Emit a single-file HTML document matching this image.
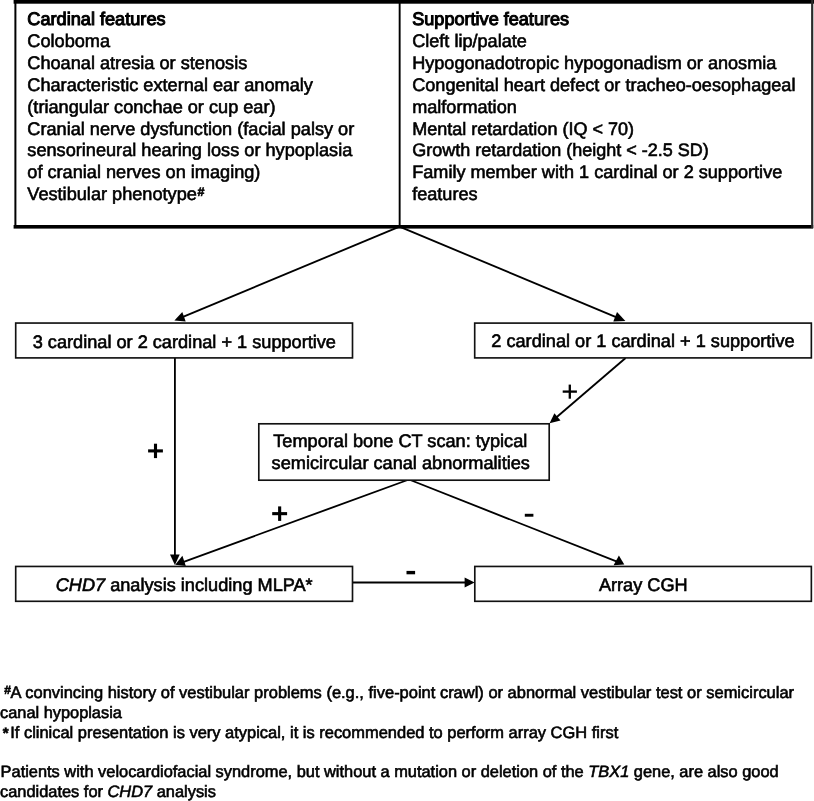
<!DOCTYPE html>
<html>
<head>
<meta charset="utf-8">
<title>CHARGE syndrome diagnostic flowchart</title>
<style>
html,body{margin:0;padding:0;background:#fff;}
body{width:814px;height:801px;overflow:hidden;position:relative;}
svg{position:absolute;left:0;top:0;display:block;filter:grayscale(1);}
text{font-family:"Liberation Sans",sans-serif;fill:#000;stroke:#000;stroke-width:0.6px;text-rendering:geometricPrecision;}
.t{font-size:18.17px;}
.h{stroke-width:1.05px;}
.f{font-size:16.45px;}
.f text{stroke-width:0.6px;}
.pm{font-size:24px;font-weight:bold;}
.ln{stroke:#000;stroke-width:1.85;fill:none;}
.bx{stroke:#111;stroke-width:1.65;fill:#fff;}
</style>
</head>
<body>
<svg width="814" height="801" viewBox="0 0 814 801">
<!-- top big box -->
<rect x="13.6" y="-2" width="800.4" height="5.7" fill="#000"/>
<rect x="13.6" y="225" width="799.6" height="3.6" fill="#000"/>
<rect x="14.4" y="0" width="2" height="228" fill="#000"/>
<rect x="811.1" y="0" width="2.2" height="228" fill="#2a2a2a"/>
<rect x="398.7" y="0" width="1.9" height="228" fill="#000"/>

<!-- connectors -->
<line class="ln" x1="399.5" y1="226.6" x2="180" y2="318.2"/>
<line class="ln" x1="399.5" y1="226.6" x2="619" y2="318.4"/>
<line class="ln" x1="174.9" y1="358" x2="174.9" y2="558"/>
<line class="ln" x1="625.6" y1="358" x2="554.5" y2="419"/>
<line class="ln" x1="409" y1="479.5" x2="181" y2="562.8"/>
<line class="ln" x1="409" y1="479.5" x2="617" y2="561.7"/>
<line class="ln" x1="353" y1="582.5" x2="466" y2="582.5"/>

<!-- arrowheads -->
<polygon points="174.4,320.5 182.3,312.1 185.7,321.4" fill="#000"/>
<polygon points="625.4,320.9 617,312.1 613.3,321.4" fill="#000"/>
<polygon points="174.9,565 170,554.6 179.7,554.6" fill="#000"/>
<polygon points="549.6,423.3 554.4,413.2 560.5,420.4" fill="#000"/>
<polygon points="175.2,564.8 182.4,555.8 185.8,566" fill="#000"/>
<polygon points="624.3,564.4 618.9,555.6 613.6,565.2" fill="#000"/>
<polygon points="474.6,582.5 464.6,577.6 464.6,587.4" fill="#000"/>

<!-- small boxes -->
<rect class="bx" x="15.7" y="323.05" width="336.8" height="34.85"/>
<rect class="bx" x="474.7" y="323.1" width="336.65" height="34.8"/>
<rect class="bx" x="258.8" y="423.8" width="290.4" height="56.4"/>
<rect class="bx" x="15.7" y="566.45" width="336.8" height="34.85"/>
<rect class="bx" x="474.8" y="566.45" width="336.55" height="34.85"/>

<!-- top-left text -->
<g class="t" transform="translate(0,0.7)">
<text class="h" x="27.3" y="24.7">Cardinal features</text>
<text x="27.3" y="46.55">Coloboma</text>
<text x="27.3" y="68.4">Choanal atresia or stenosis</text>
<text x="27.3" y="90.25">Characteristic external ear anomaly</text>
<text x="27.3" y="112.1">(triangular conchae or cup ear)</text>
<text x="27.3" y="133.95">Cranial nerve dysfunction (facial palsy or</text>
<text x="27.3" y="155.8">sensorineural hearing loss or hypoplasia</text>
<text x="27.3" y="177.65">of cranial nerves on imaging)</text>
<text x="27.3" y="199.5">Vestibular phenotype<tspan font-size="12.5" font-weight="bold" dy="-4.3" dx="0.6">#</tspan></text>
</g>

<!-- top-right text -->
<g class="t" style="font-size:18.1px" transform="translate(0,0.7)">
<text class="h" x="412.2" y="24.7">Supportive features</text>
<text x="412.2" y="46.55">Cleft lip/palate</text>
<text x="412.2" y="68.4">Hypogonadotropic hypogonadism or anosmia</text>
<text x="412.2" y="90.25">Congenital heart defect or tracheo-oesophageal</text>
<text x="412.2" y="112.1">malformation</text>
<text x="412.2" y="133.95" font-size="18.03">Mental retardation (IQ &lt; 70)</text>
<text x="412.2" y="155.8" font-size="18.0">Growth retardation (height &lt; -2.5 SD)</text>
<text x="412.2" y="177.65">Family member with 1 cardinal or 2 supportive</text>
<text x="412.2" y="199.5">features</text>
</g>

<!-- box labels -->
<g class="t">
<text x="32.7" y="347.5">3 cardinal or 2 cardinal + 1 supportive</text>
<text x="491.3" y="347.2">2 cardinal or 1 cardinal + 1 supportive</text>
<text x="273.3" y="447.4">Temporal bone CT scan: typical</text>
<text x="271.6" y="469.2">semicircular canal abnormalities</text>
<text x="55.7" y="591"><tspan font-style="italic">CHD7</tspan> analysis including MLPA*</text>
<text x="598.9" y="591">Array CGH</text>
</g>

<!-- plus / minus -->
<g fill="#000">
<rect x="148.1" y="449.35" width="14.8" height="3.1"/><rect x="153.95" y="443.7" width="3.1" height="14.4"/>
<rect x="272.2" y="512.1" width="14.9" height="3.1"/><rect x="278.1" y="506.4" width="3.1" height="14.5"/>
<rect x="562.7" y="390.45" width="14.2" height="2.3"/><rect x="568.65" y="384.6" width="2.3" height="14.1"/>
<rect x="524.8" y="513.8" width="8.6" height="2.9"/>
<rect x="406.5" y="570.9" width="8.6" height="3.4"/>
</g>

<!-- footnotes -->
<g class="f">
<text x="4.3" y="693.8" font-size="12" font-weight="bold" stroke-width="0.2">#</text>
<text x="10.6" y="698.2" font-size="16.476">A convincing history of vestibular problems (e.g., five-point crawl) or abnormal vestibular test or semicircular</text>
<text x="0" y="717.9" font-size="16.37">canal hypoplasia</text>
<text x="2.7" y="738.3" font-weight="bold" font-size="15" stroke-width="0">*</text>
<text x="10.2" y="738.2" font-size="16.47">If clinical presentation is very atypical, it is recommended to perform array CGH first</text>
<text x="0.6" y="777.4" font-size="16.405">Patients with velocardiofacial syndrome, but without a mutation or deletion of the <tspan font-style="italic">TBX1</tspan> gene, are also good</text>
<text x="0" y="797.1" font-size="16.4">candidates for <tspan font-style="italic">CHD7</tspan> analysis</text>
</g>
</svg>
</body>
</html>
